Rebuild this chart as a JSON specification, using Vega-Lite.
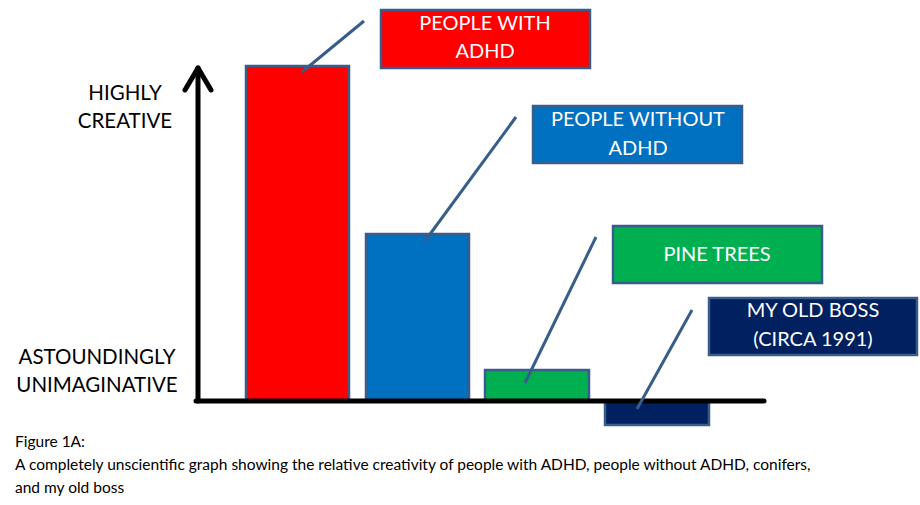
{
  "$schema": "https://vega.github.io/schema/vega-lite/v6.json",
  "width": 920,
  "height": 505,
  "padding": 0,
  "autosize": {"type": "fit", "contains": "padding"},
  "background": "white",
  "config": {"view": {"stroke": null}, "font": "Lato"},
  "datasets": {
    "bars": [
      {"group": "PEOPLE WITH ADHD", "x0": 24.6, "x1": 34.9, "creativity": 33.5},
      {"group": "PEOPLE WITHOUT ADHD", "x0": 36.6, "x1": 46.9, "creativity": 16.7},
      {"group": "PINE TREES", "x0": 48.5, "x1": 58.9, "creativity": 3.1},
      {"group": "MY OLD BOSS (CIRCA 1991)", "x0": 60.5, "x1": 70.9, "creativity": -2.4}
    ],
    "boxes": [
      {"group": "PEOPLE WITH ADHD", "x0": 38.1, "x1": 59.0, "y0": 33.3, "y1": 39.1},
      {"group": "PEOPLE WITHOUT ADHD", "x0": 53.3, "x1": 74.2, "y0": 23.8, "y1": 29.5},
      {"group": "PINE TREES", "x0": 61.3, "x1": 82.2, "y0": 11.8, "y1": 17.5},
      {"group": "MY OLD BOSS (CIRCA 1991)", "x0": 70.9, "x1": 91.7, "y0": 4.6, "y1": 10.3}
    ],
    "boxText": [
      {"line": "PEOPLE WITH", "x": 48.5, "y": 37.7},
      {"line": "ADHD", "x": 48.5, "y": 34.9},
      {"line": "PEOPLE WITHOUT", "x": 63.8, "y": 28.1},
      {"line": "ADHD", "x": 63.8, "y": 25.2},
      {"line": "PINE TREES", "x": 71.7, "y": 14.6},
      {"line": "MY OLD BOSS", "x": 81.3, "y": 9.0},
      {"line": "(CIRCA 1991)", "x": 81.3, "y": 6.1}
    ],
    "leaders": [
      {"x": 30.2, "y": 32.9, "x2": 36.4, "y2": 38.0},
      {"x": 42.5, "y": 16.0, "x2": 51.6, "y2": 28.4},
      {"x": 52.5, "y": 1.8, "x2": 59.6, "y2": 16.4},
      {"x": 63.7, "y": -0.8, "x2": 69.2, "y2": 9.1}
    ],
    "axes": [
      {"x": 19.8, "y": 0, "x2": 19.8, "y2": 33.1},
      {"x": 19.6, "y": 0, "x2": 76.4, "y2": 0},
      {"x": 18.5, "y": 31.1, "x2": 19.8, "y2": 33.3},
      {"x": 21.1, "y": 31.1, "x2": 19.8, "y2": 33.3}
    ],
    "axisText": [
      {"line": "HIGHLY", "x": 12.5, "y": 30.7},
      {"line": "CREATIVE", "x": 12.5, "y": 27.9},
      {"line": "ASTOUNDINGLY", "x": 9.7, "y": 4.3},
      {"line": "UNIMAGINATIVE", "x": 9.7, "y": 1.5}
    ],
    "caption": [
      {"line": "Figure 1A:", "x": 1.5, "y": -4.1},
      {"line": "A completely unscientific graph showing the relative creativity of people with ADHD, people without ADHD, conifers,", "x": 1.5, "y": -6.4},
      {"line": "and my old boss", "x": 1.5, "y": -8.7}
    ]
  },
  "resolve": {"scale": {"x": "shared", "y": "shared"}},
  "layer": [
    {
      "data": {"name": "bars"},
      "mark": {"type": "rect", "stroke": "#385D8A", "strokeWidth": 2.5},
      "encoding": {
        "x": {"field": "x0", "type": "quantitative", "scale": {"domain": [0, 92], "nice": false, "zero": false}, "axis": null},
        "x2": {"field": "x1"},
        "y": {"field": "creativity", "type": "quantitative", "scale": {"domain": [-10.4, 40.1], "nice": false, "zero": false}, "axis": null},
        "y2": {"datum": 0},
        "fill": {"field": "group", "type": "nominal", "legend": null,
          "scale": {"domain": ["PEOPLE WITH ADHD", "PEOPLE WITHOUT ADHD", "PINE TREES", "MY OLD BOSS (CIRCA 1991)"],
                    "range": ["#FF0000", "#0070C0", "#00B050", "#002060"]}}
      }
    },
    {
      "data": {"name": "axes"},
      "mark": {"type": "rule", "color": "black", "strokeWidth": 5, "strokeCap": "round"},
      "encoding": {
        "x": {"field": "x", "type": "quantitative"},
        "y": {"field": "y", "type": "quantitative"},
        "x2": {"field": "x2"},
        "y2": {"field": "y2"}
      }
    },
    {
      "data": {"name": "leaders"},
      "mark": {"type": "rule", "color": "#385D8A", "strokeWidth": 3},
      "encoding": {
        "x": {"field": "x", "type": "quantitative"},
        "y": {"field": "y", "type": "quantitative"},
        "x2": {"field": "x2"},
        "y2": {"field": "y2"}
      }
    },
    {
      "data": {"name": "boxes"},
      "mark": {"type": "rect", "stroke": "#385D8A", "strokeWidth": 2.5},
      "encoding": {
        "x": {"field": "x0", "type": "quantitative"},
        "x2": {"field": "x1"},
        "y": {"field": "y0", "type": "quantitative"},
        "y2": {"field": "y1"},
        "fill": {"field": "group", "type": "nominal", "legend": null}
      }
    },
    {
      "data": {"name": "boxText"},
      "mark": {"type": "text", "color": "white", "fontSize": 20, "align": "center", "baseline": "middle"},
      "encoding": {
        "x": {"field": "x", "type": "quantitative"},
        "y": {"field": "y", "type": "quantitative"},
        "text": {"field": "line"}
      }
    },
    {
      "data": {"name": "axisText"},
      "mark": {"type": "text", "color": "black", "fontSize": 20.5, "align": "center", "baseline": "middle"},
      "encoding": {
        "x": {"field": "x", "type": "quantitative"},
        "y": {"field": "y", "type": "quantitative"},
        "text": {"field": "line"}
      }
    },
    {
      "data": {"name": "caption"},
      "mark": {"type": "text", "color": "black", "fontSize": 15.5, "align": "left", "baseline": "middle"},
      "encoding": {
        "x": {"field": "x", "type": "quantitative"},
        "y": {"field": "y", "type": "quantitative"},
        "text": {"field": "line"}
      }
    }
  ]
}
